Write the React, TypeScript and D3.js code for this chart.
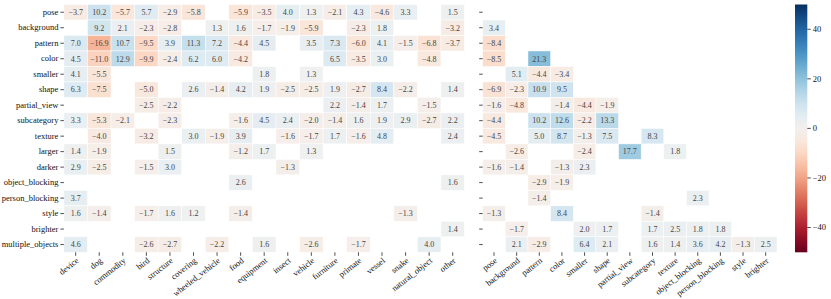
import React from "react";
import * as d3 from "d3";

const rows = ["pose","background","pattern","color","smaller","shape","partial_view","subcategory","texture","larger","darker","object_blocking","person_blocking","style","brighter","multiple_objects"];
const leftCols = ["device","dog","commodity","bird","structure","covering","wheeled_vehicle","food","equipment","insect","vehicle","furniture","primate","vessel","snake","natural_object","other"];
const rightCols = ["pose","background","pattern","color","smaller","shape","partial_view","subcategory","texture","object_blocking","person_blocking","style","brighter"];

const N = null;
const leftValues: (number | null)[][] = [
  [-3.7, 10.2, -5.7, 5.7, -2.9, -5.8, N, -5.9, -3.5, 4.0, 1.3, -2.1, 4.3, -4.6, 3.3, N, 1.5],
  [N, 9.2, 2.1, -2.3, -2.8, N, 1.3, 1.6, -1.7, -1.9, -5.9, N, -2.3, 1.8, N, N, -3.2],
  [7.0, -16.9, 10.7, -9.5, 3.9, 11.3, 7.2, -4.4, 4.5, N, 3.5, 7.3, -6.0, 4.1, -1.5, -6.8, -3.7],
  [4.5, -11.0, 12.9, -9.9, -2.4, 6.2, 6.0, -4.2, N, N, N, 6.5, -3.5, 3.0, N, -4.8, N],
  [4.1, -5.5, N, N, N, N, N, N, 1.8, N, 1.3, N, N, N, N, N, N],
  [6.3, -7.5, N, -5.0, N, 2.6, -1.4, 4.2, 1.9, -2.5, -2.5, 1.9, -2.7, 8.4, -2.2, N, 1.4],
  [N, N, N, -2.5, -2.2, N, N, N, N, N, N, 2.2, -1.4, 1.7, N, -1.5, N],
  [3.3, -5.3, -2.1, N, -2.3, N, N, -1.6, 4.5, 2.4, -2.0, -1.4, 1.6, 1.9, 2.9, -2.7, 2.2],
  [N, -4.0, N, -3.2, N, 3.0, -1.9, 3.9, N, -1.6, -1.7, 1.7, -1.6, 4.8, N, N, 2.4],
  [1.4, -1.9, N, N, 1.5, N, N, -1.2, 1.7, N, 1.3, N, N, N, N, N, N],
  [2.9, -2.5, N, -1.5, 3.0, N, N, N, N, -1.3, N, N, N, N, N, N, N],
  [N, N, N, N, N, N, N, 2.6, N, N, N, N, N, N, N, N, 1.6],
  [3.7, N, N, N, N, N, N, N, N, N, N, N, N, N, N, N, N],
  [1.6, -1.4, N, -1.7, 1.6, 1.2, N, -1.4, N, N, N, N, N, N, -1.3, N, N],
  [N, N, N, N, N, N, N, N, N, N, N, N, N, N, N, N, 1.4],
  [4.6, N, N, -2.6, -2.7, N, -2.2, N, 1.6, N, -2.6, N, -1.7, N, N, 4.0, N],
];

const rightValues: (number | null)[][] = [
  [N, N, N, N, N, N, N, N, N, N, N, N, N],
  [3.4, N, N, N, N, N, N, N, N, N, N, N, N],
  [-8.4, N, N, N, N, N, N, N, N, N, N, N, N],
  [-8.5, N, 21.3, N, N, N, N, N, N, N, N, N, N],
  [N, 5.1, -4.4, -3.4, N, N, N, N, N, N, N, N, N],
  [-6.9, -2.3, 10.9, 9.5, N, N, N, N, N, N, N, N, N],
  [-1.6, -4.8, N, -1.4, -4.4, -1.9, N, N, N, N, N, N, N],
  [-4.4, N, 10.2, 12.6, -2.2, 13.3, N, N, N, N, N, N, N],
  [-4.5, N, 5.0, 8.7, -1.3, 7.5, N, 8.3, N, N, N, N, N],
  [N, -2.6, N, N, -2.4, N, 17.7, N, 1.8, N, N, N, N],
  [-1.6, -1.4, N, -1.3, 2.3, N, N, N, N, N, N, N, N],
  [N, N, -2.9, -1.9, N, N, N, N, N, N, N, N, N],
  [N, N, -1.4, N, N, N, N, N, N, 2.3, N, N, N],
  [-1.3, N, N, 8.4, N, N, N, -1.4, N, N, N, N, N],
  [N, -1.7, N, N, 2.0, 1.7, N, 1.7, 2.5, 1.8, 1.8, N, N],
  [N, 2.1, -2.9, N, 6.4, 2.1, N, 1.6, 1.4, 3.6, 4.2, -1.3, 2.5],
];

const cbarTicks = [40, 20, 0, -20, -40];

const FONT = "Liberation Serif";
const TOP = 4.5;
const BOTTOM = 252.3;

const color = d3.scaleDiverging<string>(d3.interpolateRdBu).domain([-50, 0, 50]);
const txt = { fontFamily: FONT } as React.CSSProperties;

function Heat({ cols, values, x0, x1, showRowLabels }: { cols: string[]; values: (number | null)[][]; x0: number; x1: number; showRowLabels: boolean }) {
  const x = d3.scaleBand<string>().domain(cols).range([x0, x1]);
  const y = d3.scaleBand<string>().domain(rows).range([TOP, BOTTOM]);
  const fmt = d3.format(".1f");
  return (
    <g>
      {values.map((row, ri) =>
        row.map((v, ci) =>
          v === null ? null : (
            <g key={`${ri}-${ci}`}>
              <rect x={x(cols[ci])!} y={y(rows[ri])!} width={x.bandwidth()} height={y.bandwidth()} fill={color(v)} stroke="#fff" strokeWidth={0.5} />
              <text x={x(cols[ci])! + x.bandwidth() / 2} y={y(rows[ri])! + y.bandwidth() / 2} dy="0.35em" textAnchor="middle" fontSize={8} style={txt} fill="#444">
                {fmt(v)}
              </text>
            </g>
          )
        )
      )}
      {rows.map((r) => (
        <g key={r}>
          <line x1={x0 - 3.5} x2={x0} y1={y(r)! + y.bandwidth() / 2} y2={y(r)! + y.bandwidth() / 2} stroke="#222" strokeWidth={0.8} />
          {showRowLabels && (
            <text x={x0 - 5.5} y={y(r)! + y.bandwidth() / 2} dy="0.32em" textAnchor="end" fontSize={8.5} style={txt} fill="#111">
              {r}
            </text>
          )}
        </g>
      ))}
      {cols.map((c) => {
        const cx = x(c)! + x.bandwidth() / 2;
        return (
          <g key={c}>
            <line x1={cx} x2={cx} y1={BOTTOM} y2={BOTTOM + 3.5} stroke="#222" strokeWidth={0.8} />
            <text transform={`translate(${cx + 1},${BOTTOM + 6}) rotate(-38)`} textAnchor="end" dy="0.5em" fontSize={8.5} style={txt} fill="#111">
              {c}
            </text>
          </g>
        );
      })}
    </g>
  );
}

function Colorbar() {
  const cx0 = 795;
  const cw = 12.3;
  const y = d3.scaleLinear().domain([50, -50]).range([TOP, BOTTOM]);
  const stops = d3.range(0, 1.0001, 0.05);
  return (
    <g>
      <defs>
        <linearGradient id="cbar" x1="0" y1="1" x2="0" y2="0">
          {stops.map((t) => (
            <stop key={t} offset={t} stopColor={d3.interpolateRdBu(t)} />
          ))}
        </linearGradient>
      </defs>
      <rect x={cx0} y={TOP} width={cw} height={BOTTOM - TOP} fill="url(#cbar)" />
      {cbarTicks.map((t) => (
        <g key={t}>
          <line x1={cx0 + cw} x2={cx0 + cw + 3.5} y1={y(t)} y2={y(t)} stroke="#222" strokeWidth={0.8} />
          <text x={cx0 + cw + 5.5} y={y(t)} dy="0.32em" fontSize={8.5} style={txt} fill="#111">
            {t < 0 ? `\u2212${Math.abs(t)}` : `${t}`}
          </text>
        </g>
      ))}
    </g>
  );
}

export default function App() {
  return (
    <svg width={831} height={299} style={{ position: "absolute", left: 0, top: 0, background: "#fff" }}>
      <Heat cols={leftCols} values={leftValues} x0={63.9} x1={464.5} showRowLabels={true} />
      <Heat cols={rightCols} values={rightValues} x0={482.7} x1={777} showRowLabels={false} />
      <Colorbar />
    </svg>
  );
}
